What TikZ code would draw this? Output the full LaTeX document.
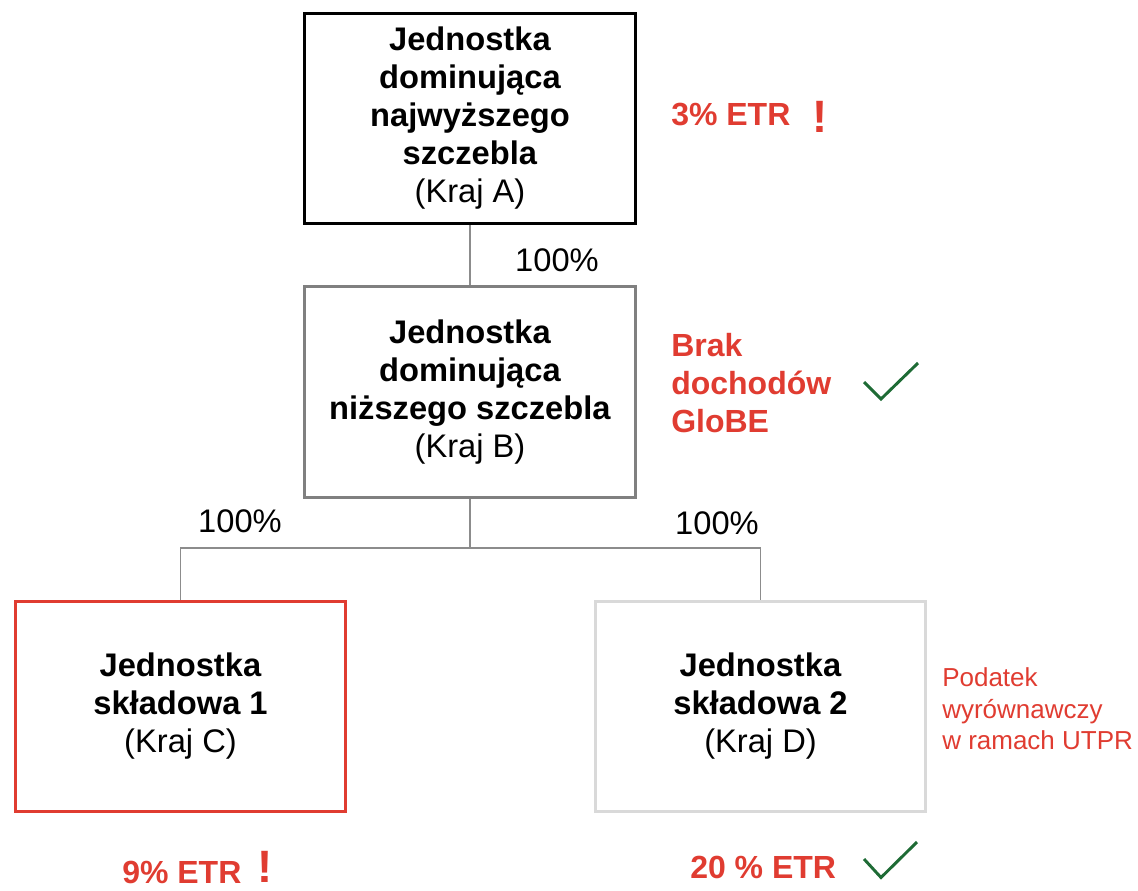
\documentclass[tikz,border=0pt]{standalone}
\usepackage{fontspec}
\setmainfont{Liberation Sans}
\definecolor{ered}{HTML}{E03C31}
\definecolor{okgreen}{HTML}{1E6B35}
\definecolor{boxgray}{HTML}{808080}
\definecolor{palegray}{HTML}{D9D9D9}
\definecolor{linegray}{HTML}{8C8C8C}
\begin{document}
\begin{tikzpicture}[x=0.75pt,y=-0.75pt,
  entity/.style={draw,line width=2.2pt,minimum width=248pt,minimum height=158pt,
    align=center,inner sep=0pt,font=\fontsize{24.5}{28.5}\selectfont},
  conn/.style={draw=linegray,line width=1.2pt},
  share/.style={font=\fontsize{24.5}{28.5}\selectfont},
  note/.style={text=ered,font=\bfseries\fontsize{24}{28.5}\selectfont,align=left,inner sep=0pt},
  warn/.style={text=ered,font=\bfseries\fontsize{34}{34}\selectfont,inner sep=0pt},
  tick/.style={draw=okgreen,line width=2.2pt}]
\useasboundingbox (0,0) rectangle (1138,890);
% entities
\node[entity] (top) at (470,118.5) {\textbf{Jednostka}\\\textbf{dominująca}\\\textbf{najwyższego}\\\textbf{szczebla}\\(Kraj A)};
\node[entity,draw=boxgray] (mid) at (470,392) {\textbf{Jednostka}\\\textbf{dominująca}\\\textbf{niższego szczebla}\\(Kraj B)};
\node[entity,draw=ered] (left) at (180.5,706.5) {\textbf{Jednostka}\\\textbf{składowa 1}\\(Kraj C)};
\node[entity,draw=palegray] (right) at (760.5,706.5) {\textbf{Jednostka}\\\textbf{składowa 2}\\(Kraj D)};
% ownership lines
\coordinate (split) at (470,548);
\draw[conn] (top.south) -- (mid.north);
\draw[conn] (mid.south) -- (split);
\draw[conn] (split) -| (left.north);
\draw[conn] (split) -| (right.north);
\node[share] (s1) at (557,260) {100\%};
\node[share] (s2) at (240,521) {100\%};
\node[share] (s3) at (717,523) {100\%};
% remarks
\node[note,anchor=west] (etrA) at (671,115) {3\% ETR};
\node[warn] (warnA) at (820,117) {!};
\node[note,anchor=west] (noinc) at (671,383) {Brak\\dochodów\\GloBE};
\draw[tick] (864,382) -- (881,399) -- (918,363);
\node[text=ered,font=\fontsize{19.5}{23.5}\selectfont,align=left,inner sep=0pt,anchor=west] (utpr) at (942,709) {Podatek\\wyrównawczy\\w ramach UTPR};
\node[note,anchor=west] (etrC) at (122,872) {9\% ETR};
\node[warn] (warnC) at (265,867) {!};
\node[note,anchor=west] (etrD) at (690,867) {20 \% ETR};
\draw[tick] (864,859) -- (881,877.5) -- (917,842);
\end{tikzpicture}
\end{document}
